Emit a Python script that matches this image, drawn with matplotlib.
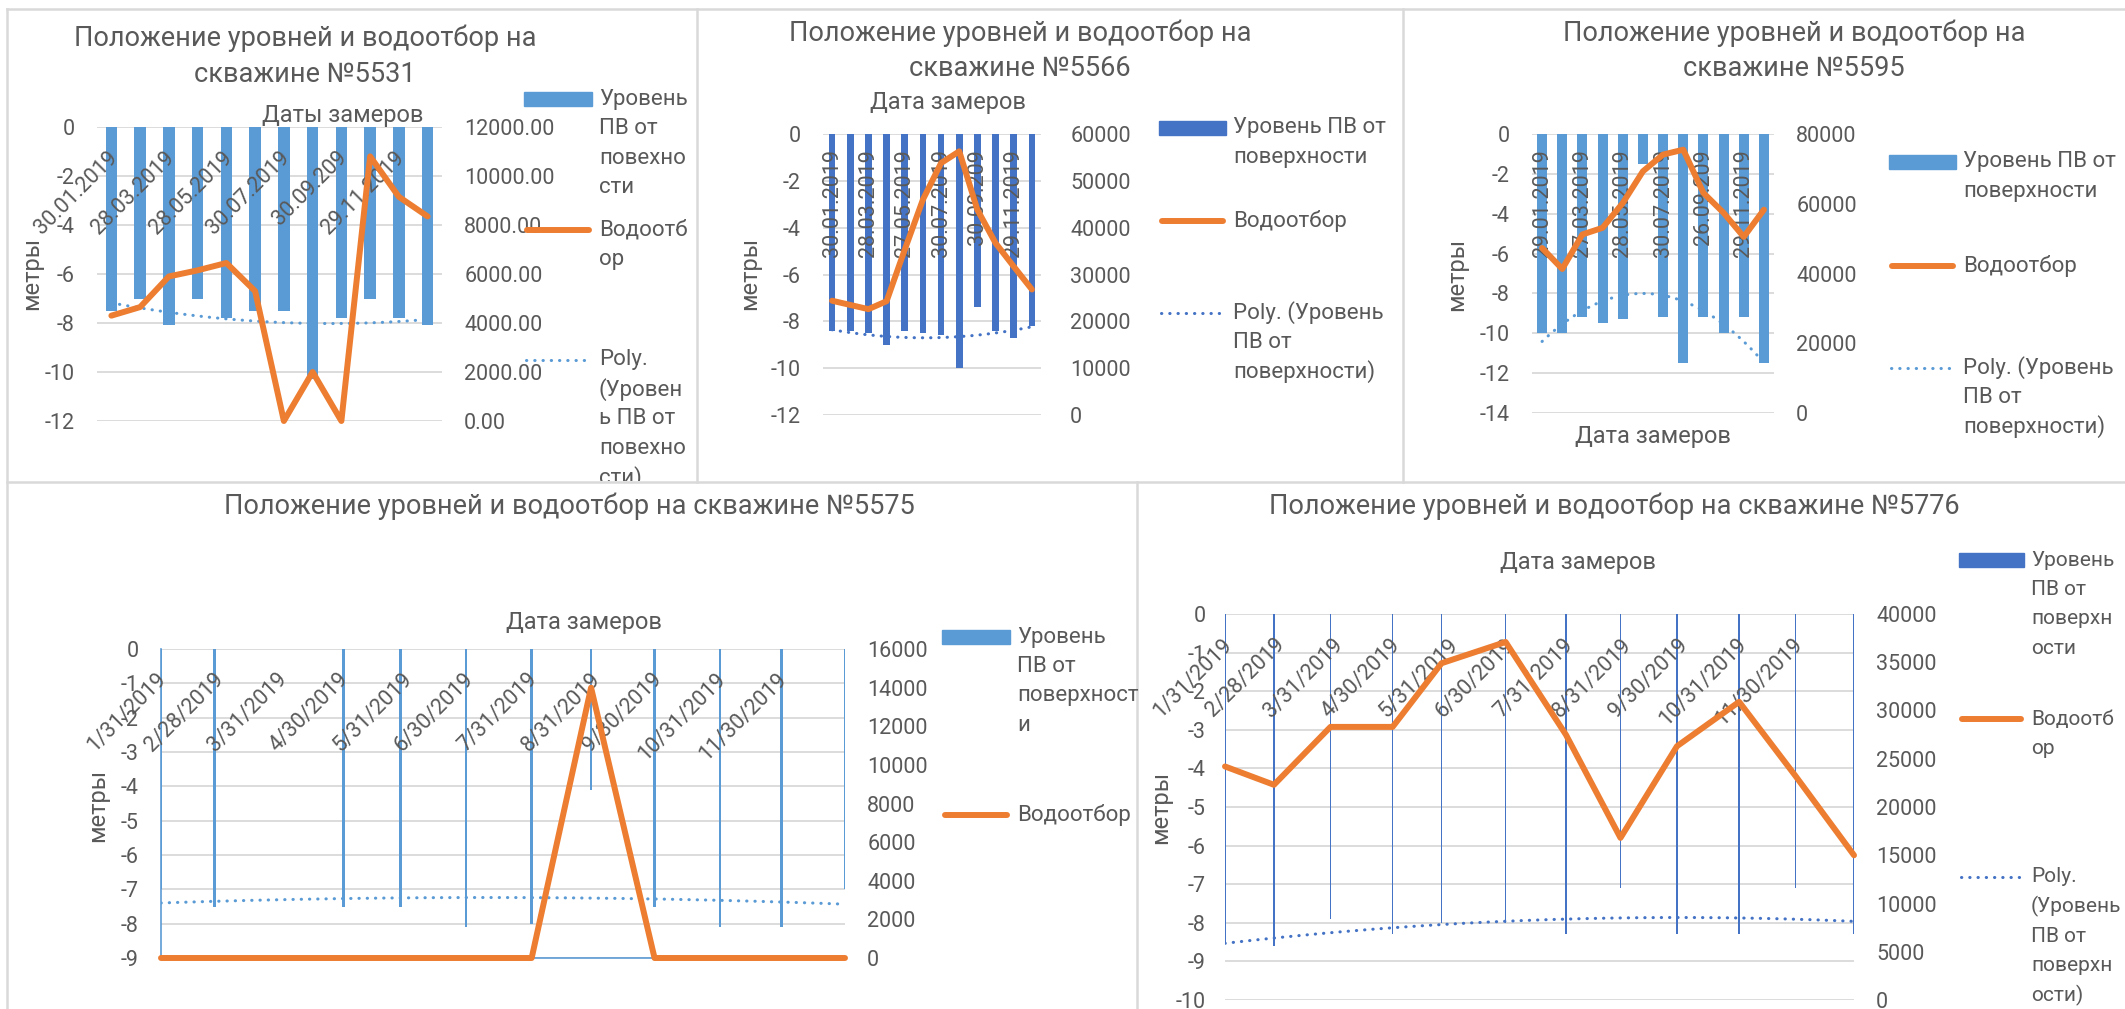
"""Положение уровней ПВ и водоотбор по скважинам 5531, 5566, 5595, 5575, 5776 (2019)."""
from datetime import datetime

import matplotlib
matplotlib.use("Agg")
import matplotlib.dates as mdates
import matplotlib.pyplot as plt
import numpy as np
from matplotlib.lines import Line2D
from matplotlib.patches import Rectangle
from matplotlib.transforms import Bbox, TransformedBbox

W, H = 2125, 1009
TEXT = "#595959"
GRID = "#D9D9D9"
LIGHT_BLUE = "#5B9BD5"
DARK_BLUE = "#4472C4"
ORANGE = "#ED7D31"

TICK = 15.5
TITLE = 19.5
LEG = 16
AXT = 17

plt.rcParams["font.family"] = ["Roboto", "DejaVu Sans"]
plt.rcParams["axes.unicode_minus"] = False

# Скважина 5531 (категории, подписи через одну)
labels_5531 = ["30.01.2019", "28.03.2019", "28.05.2019", "30.07.2019", "30.09.209", "29.11.2019"]
level_5531 = [-7.5, -7.0, -8.1, -7.0, -7.8, -7.5, -7.5, -10.3, -7.8, -7.0, -7.8, -8.1]
water_5531 = [4300, 4650, 5900, 6150, 6450, 5300, 0, 2000, 0, 10800, 9150, 8350]

# Скважина 5566
labels_5566 = ["30.01.2019", "28.03.2019", "27.05.2019", "30.07.2019", "30.09.209", "29.11.2019"]
level_5566 = [-8.4, -8.4, -8.5, -9.0, -8.4, -8.5, -8.6, -10.0, -7.4, -8.4, -8.7, -8.2]
water_5566 = [24400, 23500, 22600, 24300, 35300, 46000, 53800, 56300, 43800, 36700, 31700, 26800]

# Скважина 5595
labels_5595 = ["29.01.2019", "27.03.2019", "28.05.2019", "30.07.2019", "26.09.209", "29.11.2019"]
level_5595 = [-10.0, -10.0, -9.2, -9.5, -9.3, -1.5, -9.2, -11.5, -9.2, -10.0, -9.2, -11.5]
water_5595 = [47300, 41300, 51200, 53100, 60200, 69300, 74100, 75500, 63100, 57400, 50500, 58300]

# Подписи дат (конец месяца) для скважин 5575 и 5776
month_ticks = ["1/31/2019", "2/28/2019", "3/31/2019", "4/30/2019", "5/31/2019", "6/30/2019",
               "7/31/2019", "8/31/2019", "9/30/2019", "10/31/2019", "11/30/2019"]
axis_range = ["2019-01-31", "2019-12-31"]

# Скважина 5575
dates_5575 = ["2019-01-31", "2019-02-26", "2019-04-30", "2019-05-28", "2019-06-29", "2019-07-31",
              "2019-08-29", "2019-09-29", "2019-10-31", "2019-11-30", "2019-12-31"]
level_5575 = [-7.0, -7.5, -7.5, -7.5, -8.1, -8.0, -4.1, -7.5, -8.1, -8.1, -7.0]
water_5575 = [0, 0, 0, 0, 0, 0, 14000, 0, 0, 0, 0]

# Скважина 5776
dates_5776 = ["2019-01-31", "2019-02-26", "2019-03-28", "2019-04-30", "2019-05-26", "2019-06-29",
              "2019-07-31", "2019-08-29", "2019-09-28", "2019-10-31", "2019-11-30", "2019-12-31"]
level_5776 = [-8.5, -8.6, -7.9, -8.3, -8.0, -8.0, -8.3, -7.1, -8.3, -8.3, -7.1, -8.3]
water_5776 = [24200, 22300, 28300, 28300, 34900, 37100, 27500, 16800, 26300, 30900, 23200, 15000]


def fx(px):
    return px / W


def fy(py):
    return 1 - py / H


def add_axes(fig, left, top, right, bottom):
    """Axes placed by pixel box of the plot area."""
    ax = fig.add_axes([fx(left), fy(bottom), (right - left) / W, (bottom - top) / H])
    ax2 = ax.twinx()
    for a in (ax, ax2):
        for s in a.spines.values():
            s.set_visible(False)
        a.tick_params(length=0, labelsize=TICK, labelcolor=TEXT)
    ax.set_xticks([])
    ax.yaxis.grid(True, color=GRID, lw=1.3)
    ax.set_axisbelow(True)
    return ax, ax2


def set_scales(ax, ax2, left_min, left_step, right_max, right_step, right_fmt, lpad=16, rpad=16):
    ax.set_ylim(left_min, 0)
    lt = np.arange(left_min, 0.5 * left_step, left_step)
    ax.set_yticks(lt)
    ax.set_yticklabels([f"{v:g}" for v in lt])
    ax.tick_params(axis="y", pad=lpad)
    ax2.set_ylim(0, right_max)
    rt = np.arange(0, right_max + 0.5 * right_step, right_step)
    ax2.set_yticks(rt)
    ax2.set_yticklabels([right_fmt.format(v) for v in rt])
    ax2.tick_params(axis="y", pad=rpad)


def trend(ax, x, y, color):
    """Polynomial (order 2) trendline, as in the source workbook."""
    x = np.asarray(x, float)
    coef = np.polyfit(x - x[0], y, 2)
    xs = np.linspace(x[0], x[-1], 300)
    ax.plot(xs, np.polyval(coef, xs - x[0]), color=color, lw=2.2, ls=(0, (0.1, 2.6)),
            dash_capstyle="round", zorder=3)


def water_line(ax2, x, y):
    ax2.plot(x, y, color=ORANGE, lw=4.3, solid_capstyle="round", solid_joinstyle="round",
             clip_on=False, zorder=4)


def top_labels(ax, xs, labels, rotation, dx, dy, ha, va, mode):
    for x, lab in zip(xs, labels):
        ax.annotate(lab, xy=(x, 1), xycoords=("data", "axes fraction"), xytext=(dx, dy),
                    textcoords="offset points", rotation=rotation, rotation_mode=mode,
                    ha=ha, va=va, fontsize=TICK, color=TEXT, annotation_clip=False, zorder=5)


def legend_entry(fig, kind, x0, x1, y, lines, color, clip=None, size=LEG):
    if kind == "patch":
        fig.add_artist(Rectangle((fx(x0), fy(y + 7)), (x1 - x0) / W, 14 / H, color=color,
                                 transform=fig.transFigure))
    elif kind == "line":
        fig.add_artist(Line2D([fx(x0 + 3), fx(x1 - 3)], [fy(y), fy(y)], color=color, lw=4.3,
                              solid_capstyle="round", transform=fig.transFigure))
    else:
        fig.add_artist(Line2D([fx(x0 + 2), fx(x1 - 2)], [fy(y), fy(y)], color=color, lw=2.2,
                              ls=(0, (0.1, 2.6)), dash_capstyle="round", transform=fig.transFigure))
    for i, line in enumerate(lines):
        t = fig.text(fx(x1 + 7), fy(y + 29.5 * i), line, fontsize=size, color=TEXT,
                     ha="left", va="center")
        if clip is not None:
            t.set_clip_box(clip)
            t.set_clip_on(True)


def texts(fig, items, **kw):
    for x, y, s in items:
        fig.text(fx(x), fy(y), s, color=TEXT, ha="center", va="center", **kw)


def to_num(dates, fmt="%Y-%m-%d"):
    return mdates.date2num([datetime.strptime(d, fmt) for d in dates])


def main():
    fig = plt.figure(figsize=(W / 100, H / 100), dpi=100)

    # рамки диаграмм
    for x0, y0, x1, y1 in [(7, 9, 2125, 9), (7, 9, 7, 1009), (697, 9, 697, 482),
                           (1403, 9, 1403, 482), (7, 482, 2125, 482), (1137, 482, 1137, 1009)]:
        fig.add_artist(Line2D([fx(x0), fx(x1)], [fy(y0), fy(y1)], color=GRID, lw=1.8,
                              transform=fig.transFigure))

    # 5531
    ax, ax2 = add_axes(fig, 97, 127, 442, 421)
    x = np.arange(len(level_5531))
    ax.bar(x, level_5531, width=0.4, color=LIGHT_BLUE, zorder=2)
    trend(ax, x, level_5531, LIGHT_BLUE)
    water_line(ax2, x, water_5531)
    ax.set_xlim(-0.5, len(x) - 0.5)
    set_scales(ax, ax2, -12, 2, 12000, 2000, "{:.2f}")
    top_labels(ax, x[::2], labels_5531, 45, 2, -20, "right", "center", "anchor")

    # 5566
    ax, ax2 = add_axes(fig, 823, 134, 1041, 415)
    x = np.arange(len(level_5566))
    ax.bar(x, level_5566, width=0.37, color=DARK_BLUE, zorder=2)
    trend(ax, x, level_5566, DARK_BLUE)
    water_line(ax2, x, water_5566)
    ax.set_xlim(-0.5, len(x) - 0.5)
    set_scales(ax, ax2, -12, 2, 60000, 10000, "{:.0f}", rpad=21)
    top_labels(ax, x[::2], labels_5566, 90, 0, -11, "center", "top", "default")

    # 5595
    ax, ax2 = add_axes(fig, 1532, 134, 1774, 413)
    x = np.arange(len(level_5595))
    ax.bar(x, level_5595, width=0.5, color=LIGHT_BLUE, zorder=2)
    trend(ax, x, level_5595, LIGHT_BLUE)
    water_line(ax2, x, water_5595)
    ax.set_xlim(-0.5, len(x) - 0.5)
    set_scales(ax, ax2, -14, 2, 80000, 20000, "{:.0f}")
    top_labels(ax, x[::2], labels_5595, 90, 0, -11, "center", "top", "default")

    ticks_num = to_num(month_ticks, "%m/%d/%Y")
    lim = to_num(axis_range)

    # 5575
    ax, ax2 = add_axes(fig, 161, 649, 845, 958)
    x = to_num(dates_5575)
    ax.bar(x, level_5575, width=1.3, color=LIGHT_BLUE, zorder=2)
    trend(ax, x, level_5575, LIGHT_BLUE)
    water_line(ax2, x, water_5575)
    ax.set_xlim(*lim)
    for side in ("left", "bottom"):
        ax.spines[side].set_visible(True)
        ax.spines[side].set_color(LIGHT_BLUE)
        ax.spines[side].set_linewidth(1.2)
    set_scales(ax, ax2, -9, 1, 16000, 2000, "{:.0f}")
    top_labels(ax, ticks_num, month_ticks, 45, 1.5, -19.5, "right", "center", "anchor")

    # 5776
    ax, ax2 = add_axes(fig, 1225, 614, 1854, 1000)
    x = to_num(dates_5776)
    ax.bar(x, level_5776, width=0.9, color=DARK_BLUE, zorder=2)
    trend(ax, x, level_5776, DARK_BLUE)
    water_line(ax2, x, water_5776)
    ax.set_xlim(*lim)
    set_scales(ax, ax2, -10, 1, 40000, 5000, "{:.0f}", lpad=14)
    top_labels(ax, ticks_num, month_ticks, 45, 3, -20, "right", "center", "anchor")

    # заголовки
    texts(fig, [(305, 38, "Положение уровней и водоотбор на"), (305, 74, "скважине №5531"),
                (1020, 33, "Положение уровней и водоотбор на"), (1020, 68, "скважине №5566"),
                (1794, 33, "Положение уровней и водоотбор на"), (1794, 68, "скважине №5595"),
                (569, 506, "Положение уровней и водоотбор на скважине №5575"),
                (1614, 506, "Положение уровней и водоотбор на скважине №5776")], fontsize=TITLE)
    texts(fig, [(343, 115, "Даты замеров"), (948, 103, "Дата замеров"), (1653, 436, "Дата замеров"),
                (584, 622, "Дата замеров"), (1578, 563, "Дата замеров")], fontsize=AXT)
    texts(fig, [(32, 273, "метры"), (750, 273, "метры"), (1457, 274, "метры"),
                (98, 805, "метры"), (1161, 807, "метры")], fontsize=AXT, rotation=90)

    # легенды
    clip1 = TransformedBbox(Bbox([[fx(0), fy(481)], [fx(697), fy(0)]]), fig.transFigure)
    legend_entry(fig, "patch", 524, 592, 99, ["Уровень", "ПВ от", "повехно", "сти"], LIGHT_BLUE)
    legend_entry(fig, "line", 524, 592, 230, ["Водоотб", "ор"], ORANGE)
    legend_entry(fig, "dot", 524, 592, 360, ["Poly.", "(Уровен", "ь ПВ от", "повехно", "сти)"],
                 LIGHT_BLUE, clip=clip1)

    legend_entry(fig, "patch", 1159, 1226, 128, ["Уровень ПВ от", "поверхности"], DARK_BLUE)
    legend_entry(fig, "line", 1159, 1226, 221, ["Водоотбор"], ORANGE)
    legend_entry(fig, "dot", 1159, 1226, 313, ["Poly. (Уровень", "ПВ от", "поверхности)"], DARK_BLUE)

    legend_entry(fig, "patch", 1889, 1956, 162, ["Уровень ПВ от", "поверхности"], LIGHT_BLUE)
    legend_entry(fig, "line", 1889, 1956, 266, ["Водоотбор"], ORANGE)
    legend_entry(fig, "dot", 1889, 1956, 368, ["Poly. (Уровень", "ПВ от", "поверхности)"], LIGHT_BLUE)

    legend_entry(fig, "patch", 942, 1010, 637, ["Уровень", "ПВ от", "поверхност", "и"], LIGHT_BLUE)
    legend_entry(fig, "line", 942, 1010, 815, ["Водоотбор"], ORANGE)

    legend_entry(fig, "patch", 1959, 2024, 560, ["Уровень", "ПВ от", "поверхн", "ости"], DARK_BLUE,
                 size=15)
    legend_entry(fig, "line", 1959, 2024, 719, ["Водоотб", "ор"], ORANGE, size=15)
    legend_entry(fig, "dot", 1959, 2024, 877, ["Poly.", "(Уровень", "ПВ от", "поверхн", "ости)"],
                 DARK_BLUE, size=15)

    fig.savefig("out.png", dpi=100, facecolor="white")
    plt.close(fig)


if __name__ == "__main__":
    main()
